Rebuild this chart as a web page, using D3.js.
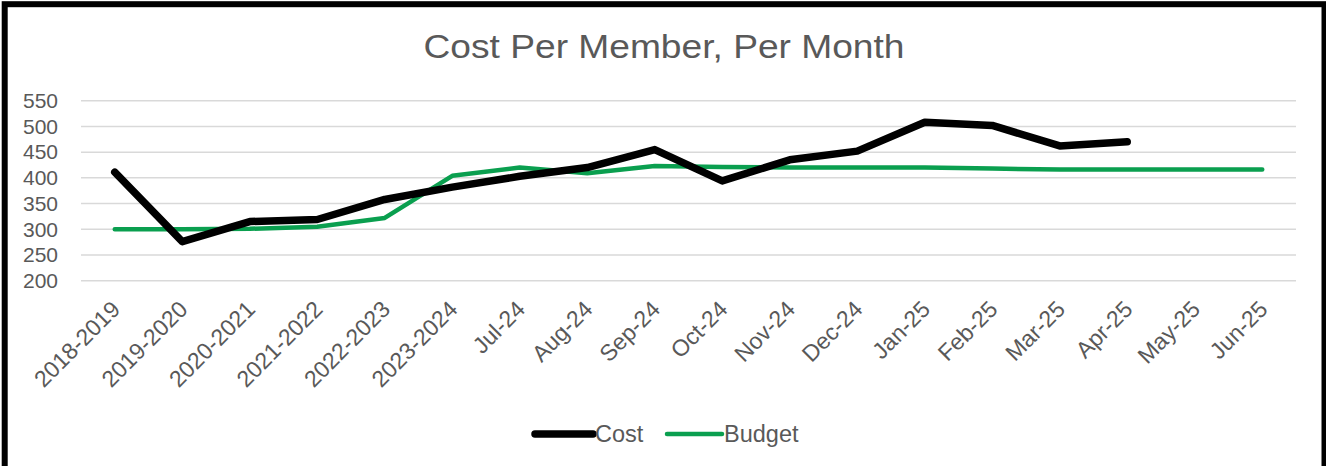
<!DOCTYPE html>
<html>
<head>
<meta charset="utf-8">
<script src="https://cdn.jsdelivr.net/npm/d3@7"></script>
<style>
  body { margin: 0; background: #fff; }
  svg { display: block; font-family: "Liberation Sans", Arial, sans-serif; }
</style>
</head>
<body>
<svg id="chart" width="1326" height="466"></svg>
<script>
const categories = ["2018-2019", "2019-2020", "2020-2021", "2021-2022", "2022-2023", "2023-2024",
  "Jul-24", "Aug-24", "Sep-24", "Oct-24", "Nov-24", "Dec-24", "Jan-25", "Feb-25", "Mar-25",
  "Apr-25", "May-25", "Jun-25"];
const cost = [411, 276, 315, 319, 358, 382, 403, 420, 455, 394, 435, 452, 508, 502, 462, 470, null, null];
const budget = [300, 300, 301, 305, 322, 404, 420, 409, 423, 421, 420, 420, 420, 418, 416, 416, 416, 416];
const yTicks = [200, 250, 300, 350, 400, 450, 500, 550];

const svg = d3.select("#chart");
const grey = "#595959";

// frame
svg.append("rect")
  .attr("x", 4.7).attr("y", 4.2)
  .attr("width", 1319.8).attr("height", 480)
  .attr("fill", "none").attr("stroke", "#000").attr("stroke-width", 6);

svg.append("text")
  .attr("x", 664).attr("y", 57.5)
  .attr("text-anchor", "middle")
  .attr("font-size", 34)
  .attr("textLength", 481)
  .attr("lengthAdjust", "spacingAndGlyphs")
  .attr("fill", grey)
  .text("Cost Per Member, Per Month");

let x = d3.scaleBand().domain(categories).range([81, 1296]);
let y = d3.scaleLinear().domain([200, 550]).range([280.7, 100.7]);
const cx = d => x(d) + x.bandwidth() / 2;

// grid
svg.append("g").selectAll("line")
  .data(yTicks)
  .enter().append("line")
    .attr("x1", 81).attr("x2", 1296)
    .attr("y1", d => y(d)).attr("y2", d => y(d))
    .attr("stroke", "#d9d9d9").attr("stroke-width", 1.5);

// y axis labels
let yAxis = svg.append("g")
  .attr("transform", "translate(58,0)")
  .call(d3.axisLeft(y).tickValues(yTicks).tickSize(0).tickPadding(0));
yAxis.select(".domain").remove();
yAxis.selectAll("text")
  .attr("font-size", 21).attr("fill", grey)
  .attr("font-family", "Liberation Sans, Arial, sans-serif");

// x axis labels
let xAxis = svg.append("g")
  .attr("transform", "translate(0,300)")
  .call(d3.axisBottom(x).tickSize(0).tickPadding(0));
xAxis.select(".domain").remove();
xAxis.selectAll("text")
  .attr("font-size", 23).attr("fill", grey)
  .attr("font-family", "Liberation Sans, Arial, sans-serif")
  .attr("text-anchor", "end")
  .attr("dy", "0.35em")
  .attr("transform", "translate(1,5) rotate(-45)");

// lines
let line = d3.line()
  .defined(d => d[1] != null)
  .x(d => cx(d[0]))
  .y(d => y(d[1]));

svg.append("path")
  .datum(categories.map((c, i) => [c, budget[i]]))
  .attr("d", line)
  .attr("fill", "none").attr("stroke", "#0a9f4f")
  .attr("stroke-width", 4.5)
  .attr("stroke-linejoin", "round").attr("stroke-linecap", "round");

svg.append("path")
  .datum(categories.map((c, i) => [c, cost[i]]))
  .attr("d", line)
  .attr("fill", "none").attr("stroke", "#000")
  .attr("stroke-width", 7.5)
  .attr("stroke-linejoin", "round").attr("stroke-linecap", "round");

// legend
const legend = [
  {name: "Cost", color: "#000", w: 7.5, x1: 535, x2: 593},
  {name: "Budget", color: "#0a9f4f", w: 4.5, x1: 667, x2: 722}
];
let lg = svg.append("g").selectAll("g").data(legend).enter().append("g");
lg.append("line")
  .attr("x1", d => d.x1).attr("x2", d => d.x2)
  .attr("y1", 434).attr("y2", 434)
  .attr("stroke", d => d.color).attr("stroke-width", d => d.w)
  .attr("stroke-linecap", "round");
lg.append("text")
  .attr("x", d => d.x2 + 2).attr("y", 442)
  .attr("font-size", 23.5).attr("fill", grey)
  .text(d => d.name);
</script>
</body>
</html>
